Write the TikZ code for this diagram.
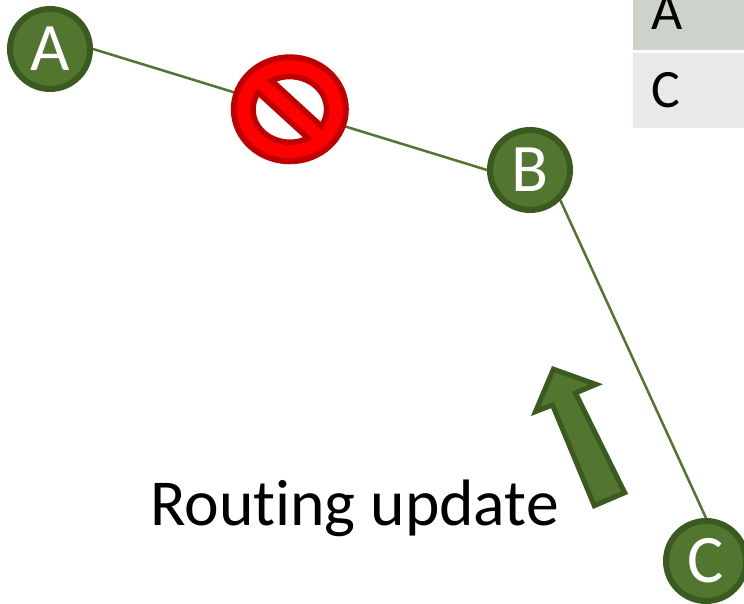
\documentclass[tikz,border=0pt]{standalone}
\usepackage{fontspec}
\setmainfont{Carlito}[Ligatures=NoCommon]
\usepackage{xcolor}
\usetikzlibrary{shapes}
\definecolor{routergreen}{HTML}{527530}
\definecolor{routerdark}{HTML}{3A5A20}
\definecolor{forbiddark}{HTML}{C00000}
\definecolor{cellA}{HTML}{CDD2CB}
\definecolor{cellC}{HTML}{E8EAE8}
\tikzset{
	main node/.style={circle,draw=routerdark,fill=routergreen,line width=6pt,minimum size=80pt,inner sep=0pt,text=white,font=\fontsize{68}{68}\selectfont},
	table cell/.style={rectangle,minimum width=111pt,anchor=west,text width=75pt,inner xsep=18pt,inner ysep=0pt,font=\fontsize{54}{54}\selectfont,align=left},
	link/.style={draw=routergreen,line width=2.5pt}
}

\begin{document}
\begin{tikzpicture}[x=1pt,y=1pt]
	\useasboundingbox (0,0) rectangle (744,604);
	% routing table
	\node [table cell,fill=cellA,minimum height=76pt] (rowA) at (633,592) {A};
	\node [table cell,fill=cellC,minimum height=75pt] (rowC) at (633,513.5) {C};
	% routers
	\node [main node] (A) at (50,555) {A};
	\node [main node] (B) at (530,434) {B};
	\node [main node] (C) at (706,43) {C};
	\draw [link] (A.east) -- (B.west);
	\draw [link] (B.south east) -- (C.north);
	% no entry sign on the link
	\draw [draw=forbiddark,fill=red,line width=6pt] (289.8,494.7) ellipse [x radius=56pt,y radius=52pt];
	\draw [draw=forbiddark,fill=white,line width=5.5pt,miter limit=4] (271.7,523.3) arc [start angle=119,end angle=-31,x radius=37pt,y radius=32.7pt] -- cycle;
	\draw [draw=forbiddark,fill=white,line width=5.5pt,miter limit=4] (258.3,511.3) arc [start angle=149,end angle=299,x radius=37pt,y radius=32.7pt] -- cycle;
	% update arrow
	\draw [draw=routerdark,fill=routergreen,line width=5pt,miter limit=10] (594.3,98.3) -- (624.7,111.3) -- (575.5,211) -- (596,219.6) -- (553.4,234.8) -- (535.5,192.4) -- (552.5,199) -- cycle;
	\node [font=\fontsize{65.6}{66}\selectfont] (update) at (354.5,96) {Routing update};
\end{tikzpicture}
\end{document}
